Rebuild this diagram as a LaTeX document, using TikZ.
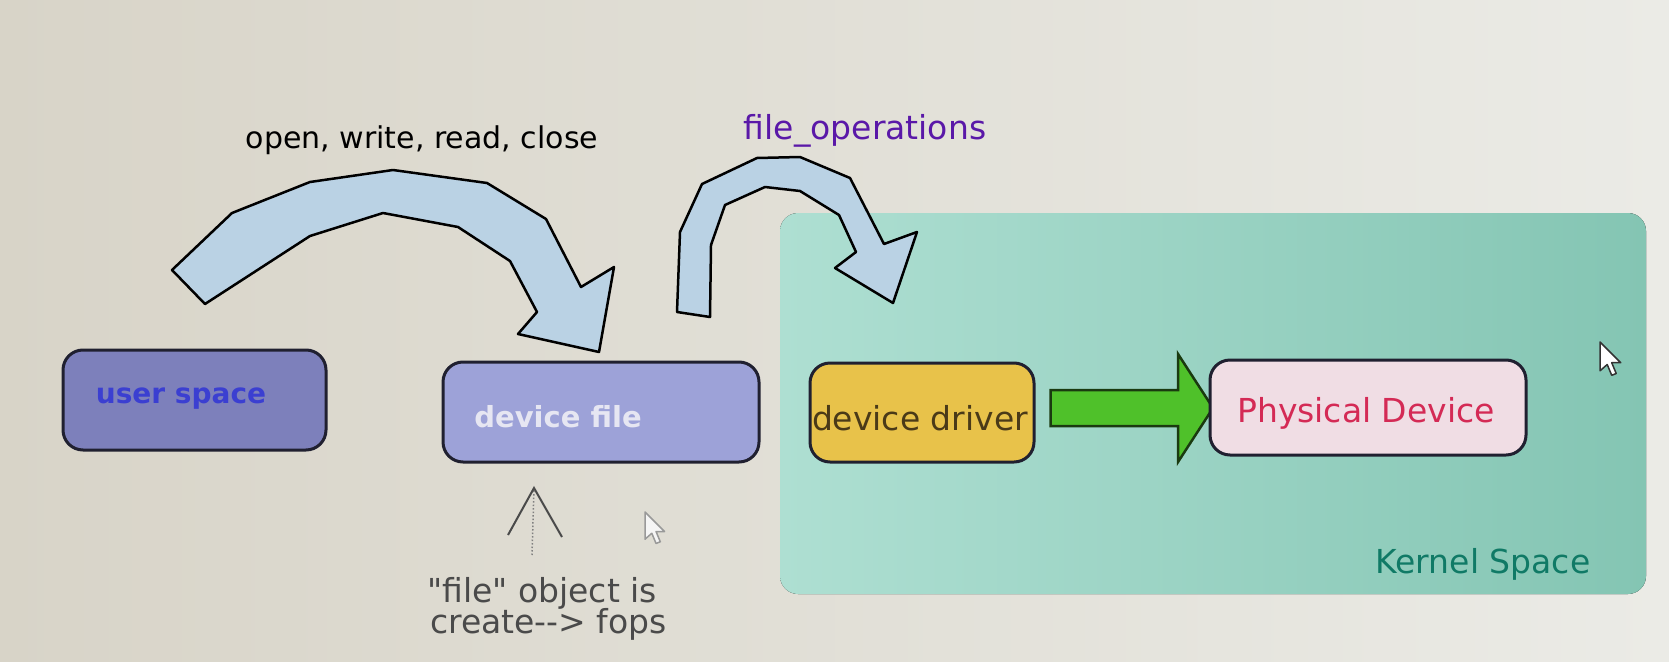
\documentclass[tikz,border=0pt]{standalone}
\usepackage{fontspec}
\setmainfont{DejaVu Sans}
\newfontfamily\notefont{DejaVu Sans}
\usetikzlibrary{calc}
\definecolor{bgL}{HTML}{D8D4C8}
\definecolor{bgR}{HTML}{EBEBE6}
\definecolor{kerL}{HTML}{AEDFD2}
\definecolor{kerR}{HTML}{84C5B3}
\definecolor{curv}{HTML}{BAD2E4}
\definecolor{usfill}{HTML}{7D80BB}
\definecolor{ustext}{HTML}{3B3FD1}
\definecolor{dffill}{HTML}{9DA2D8}
\definecolor{dftext}{HTML}{E6E6F2}
\definecolor{drvfill}{HTML}{E8C24A}
\definecolor{drvtext}{HTML}{4A3A18}
\definecolor{phfill}{HTML}{F0DDE4}
\definecolor{phtext}{HTML}{D42A55}
\definecolor{gfill}{HTML}{4FC12A}
\definecolor{gline}{HTML}{1A3A10}
\definecolor{fotext}{HTML}{5A18A8}
\definecolor{kstext}{HTML}{107A66}
\definecolor{note}{HTML}{4A4A4A}
\definecolor{outl}{HTML}{202030}
\tikzset{
  box/.style={draw=outl, line width=3pt, rounded corners=20pt, inner sep=0pt},
  txt/.style={inner sep=0pt, font=\fontsize{33}{36}\selectfont},
  notetxt/.style={inner sep=0pt, font=\notefont\fontsize{33}{36}\selectfont, text=note},
  curvarrow/.style={fill=curv, draw=black, line width=2.5pt, line join=round},
  cursor/.style={fill=white, draw=#1, line width=1.5pt, line join=round}
}
\begin{document}
\begin{tikzpicture}[x=1pt,y=-1pt]
\useasboundingbox (0,0) rectangle (1669,661);
\fill[left color=bgL, right color=bgR] (0,0) rectangle (1669,661);
% kernel region
\fill[left color=kerL, right color=kerR, rounded corners=18pt] (780,213) rectangle (1646,594);
\node[txt, anchor=base, text=kstext] (ks) at (1483,573) {Kernel Space};

% boxes
\node[box, fill=usfill, minimum width=263pt, minimum height=100pt] (us) at (194.5,400) {};
\node[txt, anchor=base, text=ustext, font=\fontsize{28}{30}\selectfont\bfseries] (ust) at (181,403) {user space};
\node[box, fill=dffill, minimum width=316pt, minimum height=100pt] (df) at (601,412) {};
\node[txt, anchor=base, text=dftext, font=\fontsize{29}{31}\selectfont\bfseries] (dft) at (558,427) {device file};
\node[box, fill=drvfill, minimum width=224pt, minimum height=99pt] (drv) at (922,412.5) {};
\node[txt, anchor=base, text=drvtext] (drvt) at (920,430) {device driver};

% green arrow
\coordinate (gtip) at (1213,408);
\coordinate (gs) at ($(drv.east |- gtip)+(15,0)$);
\draw[fill=gfill, draw=gline, line width=2.5pt, line join=miter]
  ($(gs)+(0,-18)$) -- ($(gtip)+(-35,-18)$) -- ($(gtip)+(-35,-54)$) -- (gtip)
  -- ($(gtip)+(-35,54)$) -- ($(gtip)+(-35,18)$) -- ($(gs)+(0,18)$) -- cycle;

\node[box, fill=phfill, minimum width=316pt, minimum height=95pt] (phys) at (1368,407.5) {};
\node[txt, anchor=base, text=phtext] (pht) at (1366,422) {Physical Device};

% curved arrow 1
\draw[curvarrow] (172,270) -- (232,213) -- (310,182) -- (393,170) -- (487,183) -- (546,219)
  -- (581,287) -- (614,267) -- (599,352) -- (518,334) -- (537,312) -- (510,261)
  -- (458,227) -- (383,213) -- (310,236) -- (205,304) -- cycle;
\node[txt, anchor=base, text=black, font=\fontsize{30}{32}\selectfont] (owrc) at (422,148) {open, write, read, close};

% curved arrow 2
\draw[curvarrow] (677,312) -- (680,232) -- (702,184) -- (757,158) -- (800,157) -- (850,178)
  -- (884,244) -- (917,232) -- (893,303) -- (835,268) -- (856,252) -- (839,215)
  -- (800,191) -- (765,187) -- (725,205) -- (711,245) -- (710,317) -- cycle;
\node[txt, anchor=base, text=fotext] (fo) at (865,139) {file\_operations};

% bottom arrow
\coordinate (ap) at (534,488);
\coordinate (stem) at (532,555);
\draw[note!70, line width=1.5pt, dotted] (stem) -- (ap);
\draw[note, line width=2pt] (508,535) -- (ap) -- (562,537);
\node[notetxt, anchor=base west] (n1) at (427,602) {"file" object is};
\node[notetxt, anchor=base west] (n2) at (430,633) {create--> fops};

% cursors
\draw[cursor=gray!80, fill=white!92!gray, shift={(645,512)}, scale=1.7]
  (0,0) -- (0,16) -- (4,12.5) -- (6.5,18.5) -- (9,17.5) -- (6.5,11.5) -- (11.5,11.5) -- cycle;
\draw[cursor=black!80, shift={(1600,342)}, scale=1.8]
  (0,0) -- (0,16) -- (4,12.5) -- (6.5,18.5) -- (9,17.5) -- (6.5,11.5) -- (11.5,11.5) -- cycle;
\end{tikzpicture}
\end{document}
